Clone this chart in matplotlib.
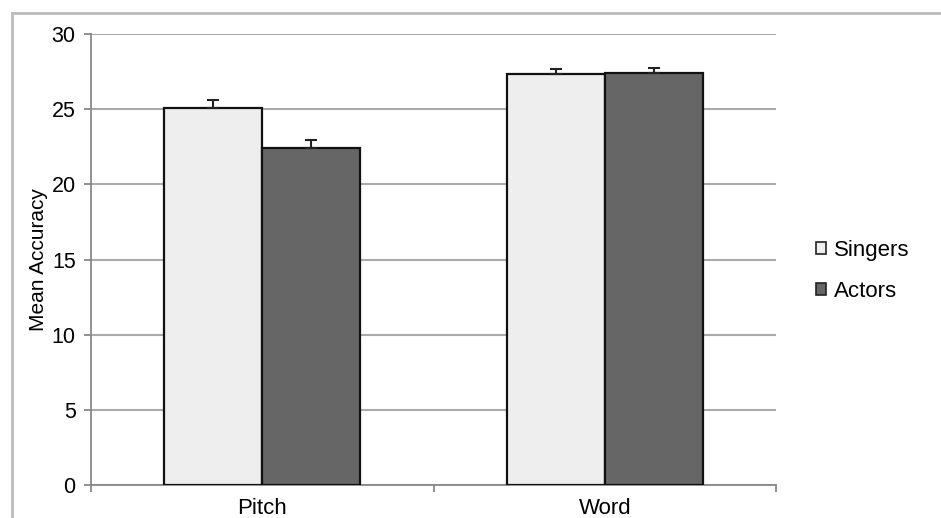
import numpy as np
import matplotlib.pyplot as plt
from matplotlib.lines import Line2D

plt.rcParams['font.family'] = ['Liberation Sans', 'DejaVu Sans']

# ── Data ──────────────────────────────────────────────────────────────────────

categories = ['Pitch', 'Word']
groups = ['Singers', 'Actors']
singers = [25.1, 27.35]
actors = [22.4, 27.42]
singers_err = [0.5, 0.3]
actors_err = [0.55, 0.35]
yticks = [0, 5, 10, 15, 20, 25, 30]

# ── Plot ──────────────────────────────────────────────────────────────────────

fig = plt.figure(figsize=(9.41, 5.18), dpi=100)
ax = fig.add_axes([91 / 941, 1 - 485 / 518, (776 - 91) / 941, (485 - 34) / 518])

x = np.arange(len(categories))
w = 0.286
colors = ['#eeeeee', '#666666']
for i, (vals, errs, label) in enumerate([(singers, singers_err, groups[0]),
                                         (actors, actors_err, groups[1])]):
    pos = x + (i - 0.5) * w
    ax.bar(pos, vals, width=w, color=colors[i], edgecolor='#111111',
           linewidth=1.6, label=label, zorder=3)
    ax.errorbar(pos, vals, yerr=[np.zeros(len(errs)), errs], fmt='none',
                ecolor='#222222', elinewidth=1.5, capsize=4, capthick=1.5, zorder=4)

ax.set_xlim(-0.5, len(categories) - 0.5)
ax.set_ylim(0, 30)
ax.set_yticks(yticks)
ax.yaxis.grid(True, color='#aaaaaa', linewidth=1.5, zorder=0)
ax.set_axisbelow(True)

ax.set_xticks(x)
ax.set_xticklabels(categories, fontsize=16)
ax.set_xticks([-0.5, 0.5, 1.5], minor=True)
ax.tick_params(axis='x', which='major', length=0, pad=9)
ax.tick_params(axis='x', which='minor', length=5, width=1.3, color='#888888')
ax.tick_params(axis='y', labelsize=15.5, length=5, width=1.3, color='#888888', pad=6)

for s in ['top', 'right']:
    ax.spines[s].set_visible(False)
for s in ['left', 'bottom']:
    ax.spines[s].set_color('#888888')
    ax.spines[s].set_linewidth(1.3)

ax.set_ylabel('Mean Accuracy', fontsize=15)
ax.yaxis.set_label_coords(-0.063, 0.5)

handles = [plt.Rectangle((0, 0), 1, 1, facecolor=c, edgecolor='#222222', linewidth=1.2)
           for c in colors]
fig.legend(handles, groups, loc='center left', bbox_to_anchor=(796 / 941, 1 - 271 / 518),
           frameon=False, fontsize=16, handlelength=0.45, handleheight=0.45,
           handletextpad=0.35, labelspacing=0.9)

# outer chart-area border (top and left visible)
fig.add_artist(Line2D([12 / 941, 12 / 941], [0, 1 - 13 / 518], color='#bbbbbb',
                      linewidth=2, transform=fig.transFigure))
fig.add_artist(Line2D([12 / 941, 1], [1 - 13 / 518, 1 - 13 / 518], color='#bbbbbb',
                      linewidth=2, transform=fig.transFigure))

fig.savefig('out.png', dpi=100)
